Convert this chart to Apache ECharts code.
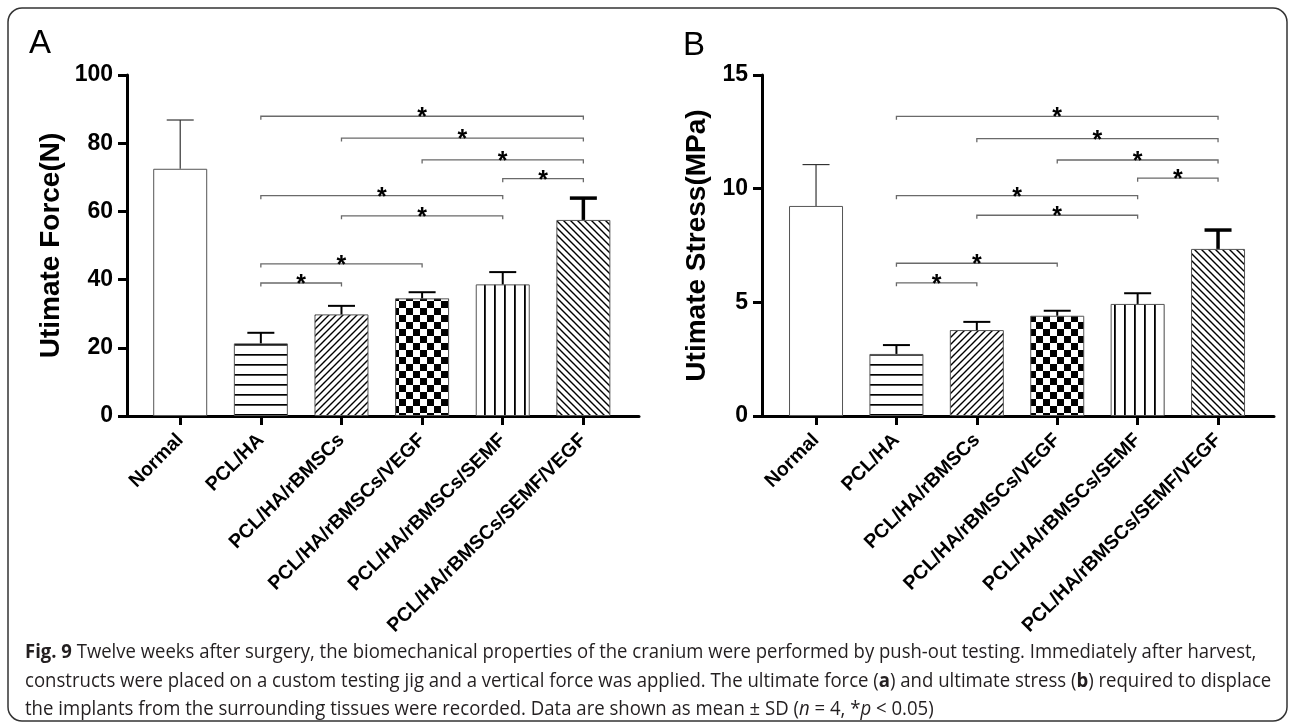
<!DOCTYPE html>
<html lang="en">
<head>
    <meta charset="UTF-8">
    <title>Fig. 9 push-out testing</title>
    <script src="https://cdn.jsdelivr.net/npm/echarts@6/dist/echarts.min.js"></script>
    <style>
        html, body { margin: 0; padding: 0; background: #fff; }
        #chart { width: 1293px; height: 728px; }
    </style>
</head>
<body>
    <div id="chart"></div>
    <script>
        // 组别
        let categories = ['Normal', 'PCL/HA', 'PCL/HA/rBMSCs', 'PCL/HA/rBMSCs/VEGF', 'PCL/HA/rBMSCs/SEMF', 'PCL/HA/rBMSCs/SEMF/VEGF'];
        // A: 极限力 (N)
        let forceMean = [72.5, 21.3, 29.8, 34.5, 38.6, 57.5];
        let forceSD = [14.3, 3.1, 2.5, 1.8, 3.6, 6.4];
        // B: 极限应力 (MPa)
        let stressMean = [9.24, 2.73, 3.78, 4.41, 4.93, 7.35];
        let stressSD = [1.82, 0.39, 0.36, 0.22, 0.47, 0.83];
        // 显著性标记 [起始组, 结束组, 高度]
        let forceSig = [[1, 5, 87.9], [2, 5, 81.5], [3, 5, 75.1], [4, 5, 69.6], [1, 4, 64.6], [2, 4, 58.7], [1, 3, 44.6], [1, 2, 39.0]];
        let stressSig = [[1, 5, 13.18], [2, 5, 12.2], [3, 5, 11.26], [4, 5, 10.46], [1, 4, 9.69], [2, 4, 8.83], [1, 3, 6.72], [1, 2, 5.86]];
        // 坐标轴刻度
        let forceTicks = { min: 0, max: 100, interval: 20 };
        let stressTicks = { min: 0, max: 15, interval: 5 };

        let FONT = '"Liberation Sans", Arial, sans-serif';

        // 填充图案
        function makePattern(kind) {
            let c = document.createElement('canvas');
            let s = kind === 'check' ? 14 : (kind === 'h' || kind === 'v' ? 10 : 7);
            c.width = s; c.height = s;
            let g = c.getContext('2d');
            g.fillStyle = '#fff';
            g.fillRect(0, 0, s, s);
            g.fillStyle = '#000';
            g.strokeStyle = '#000';
            if (kind === 'h') {
                g.fillRect(0, 4, s, 1.7);
            } else if (kind === 'v') {
                g.fillRect(4, 0, 1.8, s);
            } else if (kind === 'check') {
                g.fillRect(0, 0, 7, 7);
                g.fillRect(7, 7, 7, 7);
            } else {
                g.lineWidth = 1.4;
                g.beginPath();
                if (kind === 'fwd') {
                    g.moveTo(-1, s + 1); g.lineTo(s + 1, -1);
                    g.moveTo(-1, 1); g.lineTo(1, -1);
                    g.moveTo(s - 1, s + 1); g.lineTo(s + 1, s - 1);
                } else {
                    g.moveTo(-1, -1); g.lineTo(s + 1, s + 1);
                    g.moveTo(s - 1, -1); g.lineTo(s + 1, 1);
                    g.moveTo(-1, s - 1); g.lineTo(1, s + 1);
                }
                g.stroke();
            }
            return { image: c, repeat: 'repeat' };
        }
        let fills = ['#fff', makePattern('h'), makePattern('fwd'), makePattern('check'), makePattern('v'), makePattern('back')];
        let errWidths = [1.2, 2, 2, 2, 2, 3.5];
        let errColors = ['#333', '#000', '#000', '#000', '#000', '#000'];

        function barSeries(mean, idx) {
            return {
                type: 'bar',
                xAxisIndex: idx, yAxisIndex: idx,
                barWidth: 54,
                data: mean.map((v, i) => ({
                    value: [i, v],
                    itemStyle: { color: fills[i], borderColor: '#555', borderWidth: 1 }
                })),
                z: 2
            };
        }

        function errSeries(mean, sd, idx) {
            return {
                type: 'custom',
                xAxisIndex: idx, yAxisIndex: idx,
                data: mean.map((v, i) => [i, v, v + sd[i]]),
                renderItem: function (params, api) {
                    let p0 = api.coord([api.value(0), api.value(1)]);
                    let p1 = api.coord([api.value(0), api.value(2)]);
                    let w = errWidths[params.dataIndex];
                    let col = errColors[params.dataIndex];
                    return {
                        type: 'group',
                        children: [
                            { type: 'line', shape: { x1: p0[0], y1: p0[1], x2: p1[0], y2: p1[1] }, style: { stroke: col, lineWidth: w } },
                            { type: 'line', shape: { x1: p1[0] - 13.5, y1: p1[1], x2: p1[0] + 13.5, y2: p1[1] }, style: { stroke: col, lineWidth: w } }
                        ]
                    };
                },
                z: 3
            };
        }

        function sigSeries(sig, idx) {
            return {
                type: 'custom',
                xAxisIndex: idx, yAxisIndex: idx,
                data: sig,
                renderItem: function (params, api) {
                    let a = api.coord([api.value(0), api.value(2)]);
                    let b = api.coord([api.value(1), api.value(2)]);
                    return {
                        type: 'group',
                        children: [
                            {
                                type: 'polyline',
                                shape: { points: [[a[0], a[1] + 3.5], [a[0], a[1]], [b[0], b[1]], [b[0], b[1] + 3.5]] },
                                style: { stroke: '#6a6a6a', lineWidth: 1.3, fill: null }
                            },
                            {
                                type: 'text',
                                x: (a[0] + b[0]) / 2, y: a[1] + 2,
                                style: { text: '*', fontSize: 25, fontWeight: 'bold', fontFamily: FONT, fill: '#000', align: 'center', verticalAlign: 'middle' }
                            }
                        ]
                    };
                },
                z: 4
            };
        }

        function xAxisCfg(idx, min, max) {
            return {
                type: 'value', gridIndex: idx, min: min, max: max,
                splitLine: { show: false },
                axisLine: { show: true, onZero: false, lineStyle: { color: '#000', width: 3 } },
                axisTick: { show: true, length: 9, lineStyle: { color: '#000', width: 3 }, customValues: categories.map((c, i) => i) },
                axisLabel: {
                    customValues: categories.map((c, i) => i),
                    formatter: v => categories[Math.round(v)],
                    rotate: 45, margin: 21,
                    fontSize: 19.5, fontWeight: 'bold', fontFamily: FONT, color: '#000'
                }
            };
        }

        function yAxisCfg(idx, ticks, name, gap) {
            return {
                type: 'value', gridIndex: idx,
                min: ticks.min, max: ticks.max, interval: ticks.interval,
                name: name, nameLocation: 'middle', nameGap: gap,
                nameTextStyle: { fontSize: 28, fontWeight: 'bold', fontFamily: FONT, color: '#000' },
                splitLine: { show: false },
                axisLine: { show: true, onZero: false, lineStyle: { color: '#000', width: 3 } },
                axisTick: { show: true, length: 9, lineStyle: { color: '#000', width: 3 } },
                axisLabel: { margin: 14, fontSize: 23, fontWeight: 'bold', fontFamily: FONT, color: '#000' }
            };
        }

        // 图注
        let capFont = '"Open Sans", "Noto Sans", sans-serif';
        let capLines = [
            '{b|Fig. 9} Twelve weeks after surgery, the biomechanical properties of the cranium were performed by push-out testing. Immediately after harvest,',
            'constructs were placed on a custom testing jig and a vertical force was applied. The ultimate force ({b|a}) and ultimate stress ({b|b}) required to displace',
            'the implants from the surrounding tissues were recorded. Data are shown as mean ± SD ({i|n} = 4, *{i|p} < 0.05)'
        ];
        let capRight = [1254, 1270];
        let mctx = document.createElement('canvas').getContext('2d');
        mctx.font = '20px ' + capFont;
        let capScale = capLines.map((t, i) => {
            let plain = t.replace(/\{[bi]\|([^}]*)\}/g, '$1');
            let w = mctx.measureText(plain).width;
            return i < 2 ? (capRight[i] - 25) / w : null;
        });
        capScale[2] = capScale[1];
        let capY = [652, 681, 709];
        let captionGraphics = capLines.map((t, i) => ({
            type: 'text', x: 25, y: capY[i], scaleX: capScale[i],
            style: {
                text: t, fontSize: 20, fontFamily: capFont, fill: '#231f20', verticalAlign: 'middle',
                rich: {
                    b: { fontSize: 20, fontFamily: capFont, fontWeight: 'bold', fill: '#231f20' },
                    i: { fontSize: 20, fontFamily: capFont, fontStyle: 'italic', fill: '#231f20' }
                }
            }
        }));

        let chart = echarts.init(document.getElementById('chart'));
        chart.setOption({
            animation: false,
            backgroundColor: '#fff',
            grid: [
                { left: 127, top: 75, width: 512, height: 341 },
                { left: 762, top: 75, width: 512, height: 341 }
            ],
            xAxis: [xAxisCfg(0, -0.66, 5.69), xAxisCfg(1, -0.672, 5.696)],
            yAxis: [yAxisCfg(0, forceTicks, 'Utimate Force(N)', 62), yAxisCfg(1, stressTicks, 'Utimate Stress(MPa)', 51)],
            series: [
                barSeries(forceMean, 0), errSeries(forceMean, forceSD, 0), sigSeries(forceSig, 0),
                barSeries(stressMean, 1), errSeries(stressMean, stressSD, 1), sigSeries(stressSig, 1)
            ],
            graphic: [
                { type: 'rect', shape: { x: 8, y: 8, width: 1279, height: 713, r: 14 }, style: { fill: 'none', stroke: '#333', lineWidth: 1.5 } },
                { type: 'text', x: 29, y: 27, style: { text: 'A', fontSize: 33, fontFamily: FONT, fill: '#000' } },
                { type: 'text', x: 683, y: 29, style: { text: 'B', fontSize: 33, fontFamily: FONT, fill: '#000' } }
            ].concat(captionGraphics)
        });
    </script>
</body>
</html>
